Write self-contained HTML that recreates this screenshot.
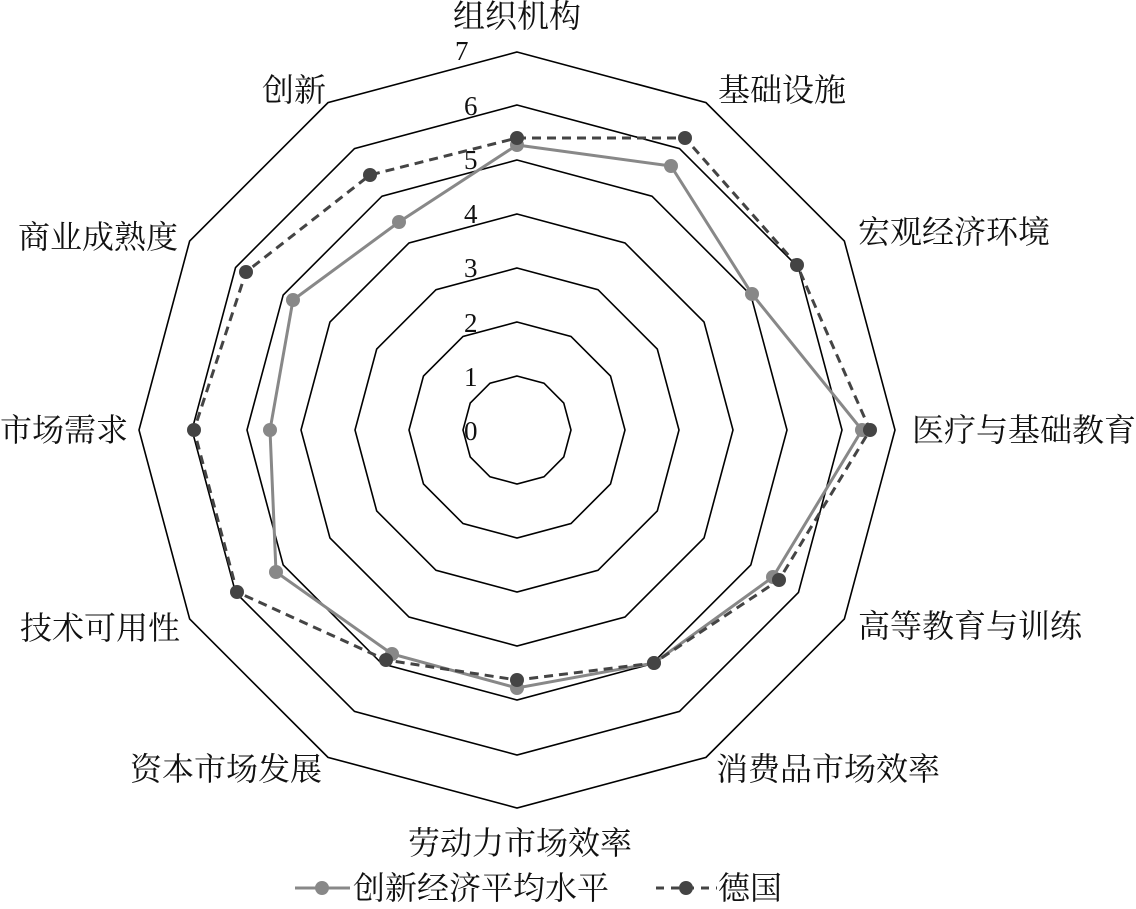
<!DOCTYPE html>
<html><head><meta charset="utf-8"><style>
html,body{margin:0;padding:0;background:#fff;}
svg{display:block}
text{font-family:"Liberation Serif","Noto Serif CJK SC",serif;fill:#111;}
</style></head><body>
<svg width="1136" height="909" viewBox="0 0 1136 909" xmlns="http://www.w3.org/2000/svg">
<g transform="translate(517,430)" fill="none" stroke="#000">
<polygon transform="scale(54)" vector-effect="non-scaling-stroke" stroke-width="1.6" points="0,-1 .5,-.866 .866,-.5 1,0 .866,.5 .5,.866 0,1 -.5,.866 -.866,.5 -1,0 -.866,-.5 -.5,-.866"/>
<polygon transform="scale(108)" vector-effect="non-scaling-stroke" stroke-width="1.6" points="0,-1 .5,-.866 .866,-.5 1,0 .866,.5 .5,.866 0,1 -.5,.866 -.866,.5 -1,0 -.866,-.5 -.5,-.866"/>
<polygon transform="scale(162)" vector-effect="non-scaling-stroke" stroke-width="1.6" points="0,-1 .5,-.866 .866,-.5 1,0 .866,.5 .5,.866 0,1 -.5,.866 -.866,.5 -1,0 -.866,-.5 -.5,-.866"/>
<polygon transform="scale(216)" vector-effect="non-scaling-stroke" stroke-width="1.6" points="0,-1 .5,-.866 .866,-.5 1,0 .866,.5 .5,.866 0,1 -.5,.866 -.866,.5 -1,0 -.866,-.5 -.5,-.866"/>
<polygon transform="scale(270)" vector-effect="non-scaling-stroke" stroke-width="1.6" points="0,-1 .5,-.866 .866,-.5 1,0 .866,.5 .5,.866 0,1 -.5,.866 -.866,.5 -1,0 -.866,-.5 -.5,-.866"/>
<polygon transform="scale(325)" vector-effect="non-scaling-stroke" stroke-width="1.6" points="0,-1 .5,-.866 .866,-.5 1,0 .866,.5 .5,.866 0,1 -.5,.866 -.866,.5 -1,0 -.866,-.5 -.5,-.866"/>
<polygon transform="scale(378)" vector-effect="non-scaling-stroke" stroke-width="1.6" points="0,-1 .5,-.866 .866,-.5 1,0 .866,.5 .5,.866 0,1 -.5,.866 -.866,.5 -1,0 -.866,-.5 -.5,-.866"/>
</g>
<g font-size="27">
<text x="455" y="60">7</text><text x="464" y="115">6</text><text x="464" y="169">5</text><text x="464" y="223">4</text><text x="464" y="277">3</text><text x="464" y="332">2</text><text x="464" y="386">1</text><text x="464" y="440">0</text>
</g>
<polygon fill="none" stroke="#888" stroke-width="3" points="517,145 671,166 752,294 862,430 773,577 654,663 517,688 392,654 276,572 270,430 293,300 399,222"/>
<polygon fill="none" stroke="#444" stroke-width="3" stroke-dasharray="9,6" points="517,138 685,138 797,265 870,430 779,580 654,663 517,680 386,660 237,592 194,430 246,272 370,175"/>
<g fill="#888">
<circle cx="517" cy="145" r="7"/><circle cx="671" cy="166" r="7"/><circle cx="752" cy="294" r="7"/><circle cx="862" cy="430" r="7"/><circle cx="773" cy="577" r="7"/><circle cx="654" cy="663" r="7"/><circle cx="517" cy="688" r="7"/><circle cx="392" cy="654" r="7"/><circle cx="276" cy="572" r="7"/><circle cx="270" cy="430" r="7"/><circle cx="293" cy="300" r="7"/><circle cx="399" cy="222" r="7"/>
</g>
<g fill="#444">
<circle cx="517" cy="138" r="7"/><circle cx="685" cy="138" r="7"/><circle cx="797" cy="265" r="7"/><circle cx="870" cy="430" r="7"/><circle cx="779" cy="580" r="7"/><circle cx="654" cy="663" r="7"/><circle cx="517" cy="680" r="7"/><circle cx="386" cy="660" r="7"/><circle cx="237" cy="592" r="7"/><circle cx="194" cy="430" r="7"/><circle cx="246" cy="272" r="7"/><circle cx="370" cy="175" r="7"/>
</g>
<g font-size="32">
<text x="517" y="27" text-anchor="middle">组织机构</text>
<text x="718" y="101">基础设施</text>
<text x="858" y="243">宏观经济环境</text>
<text x="912" y="441">医疗与基础教育</text>
<text x="858" y="637">高等教育与训练</text>
<text x="716" y="780">消费品市场效率</text>
<text x="520" y="854" text-anchor="middle">劳动力市场效率</text>
<text x="130" y="780">资本市场发展</text>
<text x="20" y="639">技术可用性</text>
<text x="0" y="441">市场需求</text>
<text x="18" y="248">商业成熟度</text>
<text x="262" y="101">创新</text>
</g>
<line x1="295" y1="888" x2="350" y2="888" stroke="#888" stroke-width="3"/>
<circle cx="322" cy="888" r="7" fill="#888"/>
<text x="353" y="899" font-size="32">创新经济平均水平</text>
<line x1="656" y1="888" x2="717" y2="888" stroke="#444" stroke-width="3" stroke-dasharray="8,7"/>
<circle cx="686" cy="888" r="7" fill="#444"/>
<text x="718" y="899" font-size="32">德国</text>
</svg>
</body></html>
